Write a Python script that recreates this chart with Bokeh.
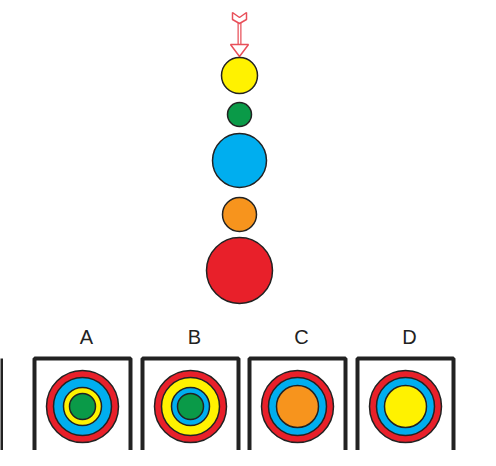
from bokeh.plotting import figure
from bokeh.models import Range1d
from bokeh.core.properties import value
from bokeh.embed import file_html
from bokeh.resources import INLINE

RED, YELLOW, GREEN, BLUE, ORANGE = "#e8202a", "#fff200", "#0a9a48", "#00aeef", "#f7941d"

# column of balls (top to bottom)
col_x = [239, 239, 239, 239, 239]
col_y = [75, 114, 160, 214, 270]
col_r = [18, 12, 27, 17, 33]
col_c = [YELLOW, GREEN, BLUE, ORANGE, RED]

# answer options
labels = ["A", "B", "C", "D"]
box_cx = [82, 190, 297, 405]
rings = [
    [(RED, 36), (BLUE, 29), (YELLOW, 19), (GREEN, 13)],
    [(RED, 36), (YELLOW, 29), (BLUE, 19), (GREEN, 13)],
    [(RED, 36), (BLUE, 29), (ORANGE, 21)],
    [(RED, 36), (BLUE, 29), (YELLOW, 21)],
]

p = figure(width=480, height=450, output_backend="svg", toolbar_location=None,
           x_range=Range1d(0, 480), y_range=Range1d(450, 0), min_border=0)
p.axis.visible = False
p.grid.visible = False
p.outline_line_color = None

# arrow
p.line([239, 239], [18, 46], line_color="#e8505a", line_width=4)
p.line([239, 239], [18, 46], line_color="white", line_width=1.5)
p.patch([230, 248, 239], [44, 44, 56], fill_color="white", line_color="#e8505a", line_width=1.5)
p.patch([232, 239, 246, 246, 239, 232], [12, 17, 12, 19, 23, 19], fill_color="white",
        line_color="#e8505a", line_width=1.5)

p.circle(col_x, col_y, radius=col_r, fill_color=col_c, line_color="#222222", line_width=1.5)

for lab, cx, rs in zip(labels, box_cx, rings):
    p.text([cx + 4], [336], text=[lab], text_align="center", text_baseline="middle",
           text_font=value("Liberation Sans"), text_font_size="20px", text_color="#222222")
    p.rect([cx], [406], width=96, height=96, fill_color="white", line_color="#222222", line_width=4)
    for col, r in rs:
        p.circle([cx], [406], radius=r, fill_color=col, line_color="#222222", line_width=1.5)

p.line([1, 1], [358, 454], line_color="#222222", line_width=3)

open("out.html", "w").write(file_html(p, INLINE))
